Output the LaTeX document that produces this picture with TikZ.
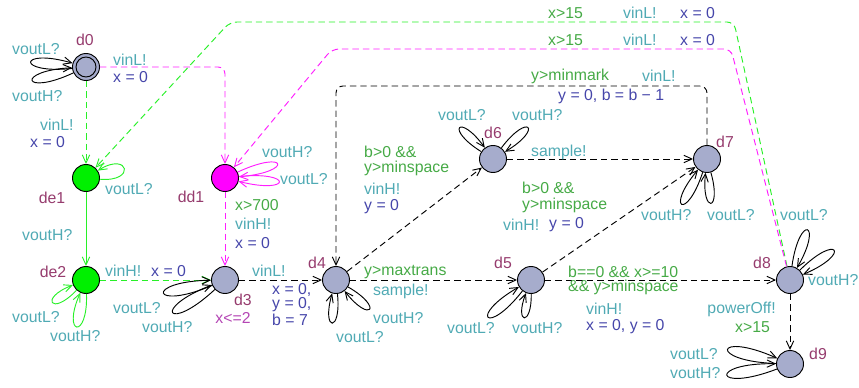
\documentclass[tikz,border=0pt]{standalone}
\usepackage{fontspec}
\setmainfont{Liberation Sans}
\usetikzlibrary{arrows.meta}

\definecolor{locfill}{RGB}{166,172,204}
\definecolor{locgreen}{RGB}{0,240,0}
\definecolor{locmag}{RGB}{255,0,255}
\definecolor{namecol}{RGB}{150,60,110}
\definecolor{guardcol}{RGB}{70,170,70}
\definecolor{synccol}{RGB}{80,170,180}
\definecolor{updcol}{RGB}{70,70,170}
\definecolor{invcol}{RGB}{180,70,180}
\definecolor{edgegreen}{RGB}{40,240,40}
\definecolor{edgemag}{RGB}{255,30,255}

\begin{document}
\begin{tikzpicture}[x=0.03cm, y=0.03cm,
    font=\fontsize{13.5}{14}\selectfont,
    loc/.style={circle, draw, line width=0.8pt, fill=locfill, minimum size=0.81cm, inner sep=0pt},
    locname/.style={text=namecol, inner sep=0pt},
    guard/.style={text=guardcol, anchor=west, inner sep=0pt},
    sync/.style={text=synccol, anchor=west, inner sep=0pt},
    upd/.style={text=updcol, anchor=west, inner sep=0pt},
    inv/.style={text=invcol, inner sep=0pt},
    trans/.style={-{Straight Barb[length=2.4mm,width=2.2mm]}, line width=0.8pt, dash pattern=on 5.5pt off 3.4pt},
    selfloop/.style={-{Straight Barb[length=2.4mm,width=2.2mm]}, line width=0.8pt}]

    \useasboundingbox (0,0) rectangle (859,387);

    % Locations
    \node[loc] (d0) at (86,320) {};
    \draw[line width=0.8pt] (d0) circle (0.3cm); % initial location
    \node[loc, fill=locgreen] (de1) at (86,209) {};
    \node[loc, fill=locmag] (dd1) at (225,209) {};
    \node[loc, fill=locgreen] (de2) at (86,107) {};
    \node[loc] (d3) at (225,107) {};
    \node[loc] (d4) at (336,107) {};
    \node[loc] (d5) at (531,107) {};
    \node[loc] (d6) at (493,228) {};
    \node[loc] (d7) at (707,228) {};
    \node[loc] (d8) at (790,107) {};
    \node[loc] (d9) at (790,23) {};

    % Location names and invariant
    \node[locname] (n0) at (85,347) {d0};
    \node[locname] (ne1) at (52,189) {de1};
    \node[locname] (nd1) at (191,190) {dd1};
    \node[locname] (ne2) at (53,115) {de2};
    \node[locname] (n3) at (243,87) {d3};
    \node[inv] (i3) at (233,69) {x<=2};
    \node[locname] (n4) at (317,124) {d4};
    \node[locname] (n5) at (503,124) {d5};
    \node[locname] (n6) at (493,254) {d6};
    \node[locname] (n7) at (725,245) {d7};
    \node[locname] (n8) at (762,124) {d8};
    \node[locname] (n9) at (818,33) {d9};

    % Corners of the long edges
    \coordinate (g1) at (734,365);
    \coordinate (g2) at (230,365);
    \coordinate (m1) at (731,338);
    \coordinate (m2) at (332,338);
    \coordinate (k1) at (707,301);
    \coordinate (k2) at (336,301);

    % Transitions
    \draw[trans, edgegreen] (d0) -- (de1);
    \draw[trans, edgemag, rounded corners=6pt] (d0) -| (dd1);
    \draw[trans, edgegreen, rounded corners=6pt] (d8) -- (g1) -- (g2) -- (de1);
    \draw[trans, edgemag, rounded corners=6pt] (d8) -- (m1) -- (m2) -- (dd1);
    \draw[trans, edgemag] (dd1) -- (d3);
    \draw[trans, solid, edgegreen] (de1) -- (de2);
    \draw[trans, edgegreen] (de2) -- (d3);
    \draw[trans] (d3) -- (d4);
    \draw[trans] (d4) -- (d6);
    \draw[trans] (d6) -- (d7);
    \draw[trans] (d5) -- (d7);
    \draw[trans, rounded corners=6pt] (d7) -- (k1) -- (k2) -- (d4);
    \draw[trans] (d4) -- (d5);
    \draw[trans] (d5) -- (d8);
    \draw[trans] (d8) -- (d9);

    % Self loops
    \foreach \n/\a/\dist in {d0/175/1.7, d0/194/1.7, d3/192/2.0, d3/212/1.95,
        d4/265/1.2, d4/319/1.25, d5/221/1.75, d5/260/1.0, d6/137/1.3, d6/42/1.35,
        d7/241/1.55, d7/275/1.25, d8/71/1.6, d8/34/1.6, d9/167/2.05, d9/190/2.05} {
        \pgfmathtruncatemacro\ao{\a+11}
        \pgfmathtruncatemacro\ai{\a-11}
        \draw[selfloop] (\n) to[out=\ao, in=\ai, distance=\dist cm] (\n);
    }
    \foreach \n/\a/\dist in {de2/214/1.1, de2/259/1.4} {
        \pgfmathtruncatemacro\ao{\a+13}
        \pgfmathtruncatemacro\ai{\a-13}
        \draw[selfloop, edgegreen] (\n) to[out=\ao, in=\ai, distance=\dist cm] (\n);
    }
    \draw[selfloop, edgegreen] (de1) to[out=-5, in=32, distance=1.1cm] (de1);
    \foreach \n/\a/\dist in {dd1/15/1.65, dd1/-4/1.65} {
        \pgfmathtruncatemacro\ao{\a+10}
        \pgfmathtruncatemacro\ai{\a-10}
        \draw[selfloop, edgemag] (\n) to[out=\ao, in=\ai, distance=\dist cm] (\n);
    }

    % Labels: d0 -> de1, d0 -> dd1
    \node[sync] (s01) at (40,262) {vinL!};
    \node[upd] (u01) at (30,245) {x = 0};
    \node[sync] (s02) at (113,327) {vinL!};
    \node[upd] (u02) at (113,310) {x = 0};
    % d8 -> de1, d8 -> dd1
    \node[guard] (g81) at (548,374) {x>15};
    \node[sync] (s81) at (623,374) {vinL!};
    \node[upd] (u81) at (680,374) {x = 0};
    \node[guard] (g82) at (548,347) {x>15};
    \node[sync] (s82) at (623,347) {vinL!};
    \node[upd] (u82) at (680,347) {x = 0};
    % dd1 -> d3, de1 -> de2, de2 -> d3
    \node[guard] (gd1) at (235,182) {x>700};
    \node[sync] (sd1) at (235,163) {vinH!};
    \node[upd] (ud1) at (235,144) {x = 0};
    \node[sync] (se1) at (22,152) {voutH?};
    \node[sync] (se2) at (105,116) {vinH!};
    \node[upd] (ue2) at (151,116) {x = 0};
    % d3 -> d4
    \node[sync] (s3) at (252,116) {vinL!};
    \node[upd] (u3a) at (272,97) {x = 0,};
    \node[upd] (u3b) at (272,82) {y = 0,};
    \node[upd] (u3c) at (272,67) {b = 7};
    % d4 -> d6
    \node[guard] (g46a) at (364,235) {b>0 \&\&};
    \node[guard] (g46b) at (364,219) {y>minspace};
    \node[sync] (s46) at (364,198) {vinH!};
    \node[upd] (u46) at (364,180) {y = 0};
    % d6 -> d7
    \node[sync] (s67) at (531,235) {sample!};
    % d5 -> d7
    \node[guard] (g57a) at (522,199) {b>0 \&\&};
    \node[guard] (g57b) at (522,182) {y>minspace};
    \node[sync] (s57) at (503,162) {vinH!};
    \node[upd] (u57) at (549,162) {y = 0};
    % d7 -> d4
    \node[guard] (g74) at (531,311) {y>minmark};
    \node[sync] (s74) at (642,311) {vinL!};
    \node[upd] (u74) at (558,291) {y = 0, b = b − 1};
    % d4 -> d5
    \node[guard] (g45) at (364,115) {y>maxtrans};
    \node[sync] (s45) at (373,96) {sample!};
    % d5 -> d8
    \node[guard] (g58a) at (568,115) {b==0 \&\& x>=10};
    \node[guard] (g58b) at (568,100) {\&\& y>minspace};
    \node[sync] (s58) at (586,78) {vinH!};
    \node[upd] (u58) at (586,60) {x = 0, y = 0};
    % d8 -> d9
    \node[sync, anchor=east] (s89) at (776,78) {powerOff!};
    \node[guard] (g89) at (735,60) {x>15};

    % Self loop labels
    \node[sync] (l0a) at (12,338) {voutL?};
    \node[sync] (l0b) at (12,291) {voutH?};
    \node[sync] (le1) at (105,198) {voutL?};
    \node[sync] (ld1a) at (262,235) {voutH?};
    \node[sync] (ld1b) at (280,208) {voutL?};
    \node[sync] (le2a) at (12,70) {voutL?};
    \node[sync] (le2b) at (50,51) {voutH?};
    \node[sync] (l3a) at (113,79) {voutL?};
    \node[sync] (l3b) at (142,60) {voutH?};
    \node[sync] (l4a) at (373,69) {voutH?};
    \node[sync] (l4b) at (336,50) {voutL?};
    \node[sync] (l5a) at (447,59) {voutL?};
    \node[sync] (l5b) at (512,59) {voutH?};
    \node[sync] (l6a) at (438,272) {voutL?};
    \node[sync] (l6b) at (512,272) {voutH?};
    \node[sync] (l7a) at (641,172) {voutH?};
    \node[sync] (l7b) at (707,172) {voutL?};
    \node[sync] (l8a) at (780,172) {voutL?};
    \node[sync] (l8b) at (808,107) {voutH?};
    \node[sync] (l9a) at (670,33) {voutL?};
    \node[sync] (l9b) at (670,14) {voutH?};

\end{tikzpicture}
\end{document}
